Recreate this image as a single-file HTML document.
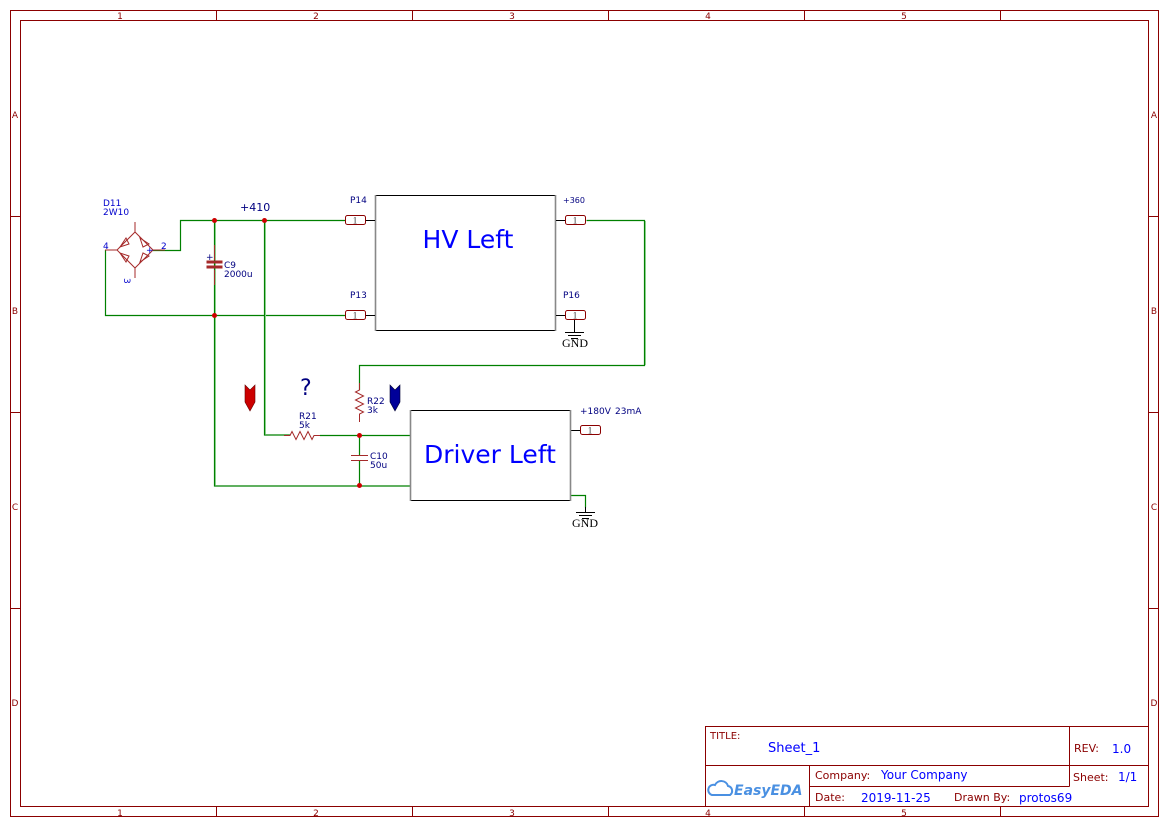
<!DOCTYPE html>
<html><head><meta charset="utf-8"><style>
html,body{margin:0;padding:0;background:#fff}
svg{display:block;font-family:"DejaVu Sans","Liberation Sans",sans-serif}
.serif{font-family:"Liberation Serif",serif}
</style></head><body>
<svg width="1169" height="827" viewBox="0 0 1169 827" xmlns="http://www.w3.org/2000/svg">
<rect width="1169" height="827" fill="#fff"/>
<g stroke="#8b0000" fill="none" stroke-width="1">
<rect x="10.5" y="10.5" width="1148" height="806"/>
<rect x="20.5" y="20.5" width="1128" height="786"/>
<path d="M216.5 10v10M412.5 10v10M608.5 10v10M804.5 10v10M1000.5 10v10M216.5 807v10M412.5 807v10M608.5 807v10M804.5 807v10M1000.5 807v10M10 216.5h10M10 412.5h10M10 608.5h10M1149 216.5h10M1149 412.5h10M1149 608.5h10"/>
</g>
<g fill="#8b0000" font-size="9" text-anchor="middle">
<text x="120" y="19">1</text><text x="316" y="19">2</text><text x="512" y="19">3</text><text x="708" y="19">4</text><text x="904" y="19">5</text>
<text x="120" y="816">1</text><text x="316" y="816">2</text><text x="512" y="816">3</text><text x="708" y="816">4</text><text x="904" y="816">5</text>
<text x="15" y="118">A</text><text x="15" y="314">B</text><text x="15" y="510">C</text><text x="15" y="706">D</text>
<text x="1154" y="118">A</text><text x="1154" y="314">B</text><text x="1154" y="510">C</text><text x="1154" y="706">D</text>
</g>
<g stroke="#8b0000" fill="none">
<rect x="705.5" y="726.5" width="443" height="80"/>
<path d="M705 765.5h443M809.5 765.5v41M809.5 786.5h260M1069.5 726.5v60"/>
</g>
<g font-size="11">
<text x="710" y="739" fill="#8b0000" font-size="10">TITLE:</text>
<text x="768" y="752" fill="#0000ff" font-size="13">Sheet_1</text>
<text x="1074" y="752" fill="#8b0000">REV:</text><text x="1112" y="753" fill="#0000ff" font-size="12">1.0</text>
<text x="815" y="779" fill="#8b0000">Company:</text><text x="881" y="779" fill="#0000ff" font-size="12">Your Company</text>
<text x="1073" y="781" fill="#8b0000">Sheet:</text><text x="1118" y="781" fill="#0000ff" font-size="12">1/1</text>
<text x="815" y="801" fill="#8b0000">Date:</text><text x="861" y="802" fill="#0000ff" font-size="12">2019-11-25</text>
<text x="954" y="801" fill="#8b0000">Drawn By:</text><text x="1019" y="802" fill="#0000ff" font-size="12">protos69</text>
</g>
<g fill="none" stroke="#4a90e2" stroke-width="2"><path d="M712 795a5 5 0 0 1 3-10a7 7 0 0 1 13 1a5 5 0 0 1 2 9z"/></g>
<text x="734" y="795" fill="#4a90e2" font-size="14" font-style="italic" font-weight="bold">EasyEDA</text>
<g stroke="#008000" stroke-width="1.2" fill="none">
<path d="M153 250.5h27.5v-30h165"/>
<path d="M105.5 250v65.5h240"/>
<path d="M214.5 220v266h196"/>
<path d="M264.5 220v215h26"/>
<path d="M320 435.5h90"/>
<path d="M359.5 435v20M359.5 461v25"/>
<path d="M359.5 390v-24.5h285v-145h-58"/>
<path d="M570 495.5h15.5v12"/>
</g>
<g stroke="#8cd08c" stroke-width="1" fill="none">
<path d="M215.5 221v264M265.5 221v213M645.5 221v144"/>
</g>
<g fill="#cc0000"><circle cx="214.5" cy="220.5" r="2.5"/><circle cx="264.5" cy="220.5" r="2.5"/><circle cx="214.5" cy="315.5" r="2.5"/><circle cx="359.5" cy="435.5" r="2.5"/><circle cx="359.5" cy="485.5" r="2.5"/></g>
<g stroke="#a52a2a" fill="none" stroke-width="1">
<path d="M135 222v10l18 18l-18 18v10M135 232l-18 18l18 18M105 250h12M153 250h12"/>
<path d="M120 247l6-9l3 6zM140 238l9 6l-6 3zM120 253l6 9l3-6zM140 262l9-6l-6-3z"/>
</g>
<g fill="#0000cc" font-size="9"><text x="103" y="206">D11</text><text x="103" y="215">2W10</text><text x="103" y="249">4</text><text x="161" y="249">2</text><text x="146" y="253">+</text><text x="126" y="284" transform="rotate(90 128 280)">3</text></g>
<text x="240" y="211" fill="#000080" font-size="11">+410</text>
<g stroke="#a52a2a"><path d="M214.5 245v15M214.5 270v15" stroke-width="1"/><rect x="207" y="261" width="15" height="2" fill="#a52a2a"/><rect x="207" y="266" width="15" height="2" fill="#a52a2a"/></g>
<g fill="#000080" font-size="9"><text x="206" y="260">+</text><text x="224" y="268">C9</text><text x="224" y="277">2000u</text></g>
<path d="M375 195.5h180M375 330.5h180" stroke="#000" fill="none"/>
<path d="M375.5 195v136M555.5 195v136" stroke="#888" stroke-width="1.6" fill="none"/>
<text x="468" y="248" fill="#0000ff" font-size="25" text-anchor="middle">HV Left</text>
<g stroke="#8b0000" fill="#fff"><rect x="345.5" y="215.5" width="20" height="9" rx="2"/><rect x="345.5" y="310.5" width="20" height="9" rx="2"/><rect x="565.5" y="215.5" width="20" height="9" rx="2"/><rect x="565.5" y="310.5" width="20" height="9" rx="2"/><rect x="580.5" y="425.5" width="20" height="9" rx="2"/></g>
<g stroke="#000"><path d="M366 220.5h9M366 315.5h9M556 220.5h9M556 315.5h9M571 430.5h9"/></g>
<g fill="#333" font-size="9" text-anchor="middle" class="serif"><text x="355" y="223.5">1</text><text x="355" y="318.5">1</text><text x="575" y="223.5">1</text><text x="575" y="318.5">1</text><text x="590" y="433.5">1</text></g>
<g fill="#000080" font-size="9"><text x="350" y="203">P14</text><text x="350" y="298">P13</text><text x="563" y="203" font-size="8">+360</text><text x="563" y="298">P16</text></g>
<g stroke="#000" fill="none"><path d="M574.5 320v12M565 332.5h19M568 335.5h13M571 338.5h7"/><path d="M585.5 507v5M576 512.5h19M579 515.5h13M582 518.5h7"/></g>
<g font-size="12" fill="#000" text-anchor="middle" class="serif"><text x="575" y="347">GND</text><text x="585" y="527">GND</text></g>
<path d="M410 410.5h160M410 500.5h160" stroke="#000" fill="none"/>
<path d="M410.5 410v91M570.5 410v91" stroke="#888" stroke-width="1.6" fill="none"/>
<text x="490" y="463" fill="#0000ff" font-size="25" text-anchor="middle">Driver Left</text>
<g fill="#000080" font-size="9"><text x="580" y="414">+180V</text><text x="615" y="414">23mA</text></g>
<path d="M284 435.5h6l2-4 4 8 4-8 4 8 4-8 4 8 2-4h6" stroke="#a52a2a" fill="none"/>
<g fill="#000080" font-size="9"><text x="299" y="419">R21</text><text x="299" y="428">5k</text></g>
<path d="M359.5 383v7l-4 2 8 4-8 4 8 4-8 4 8 4-4 2v8" stroke="#a52a2a" fill="none"/>
<g fill="#000080" font-size="9"><text x="367" y="404">R22</text><text x="367" y="413">3k</text></g>
<path d="M351 455.5h17M351 460.5h17" stroke="#a52a2a" fill="none"/>
<g fill="#000080" font-size="9"><text x="370" y="459">C10</text><text x="370" y="468">50u</text></g>
<text x="300" y="395" fill="#000080" font-size="22">?</text>
<path d="M245 385l5 5l5-5v17l-5 9l-5-9z" fill="#cc0000" stroke="#600" stroke-width="0.6"/>
<path d="M390 385l5 5l5-5v17l-5 9l-5-9z" fill="#000099" stroke="#003" stroke-width="0.6"/>
</svg>
</body></html>
